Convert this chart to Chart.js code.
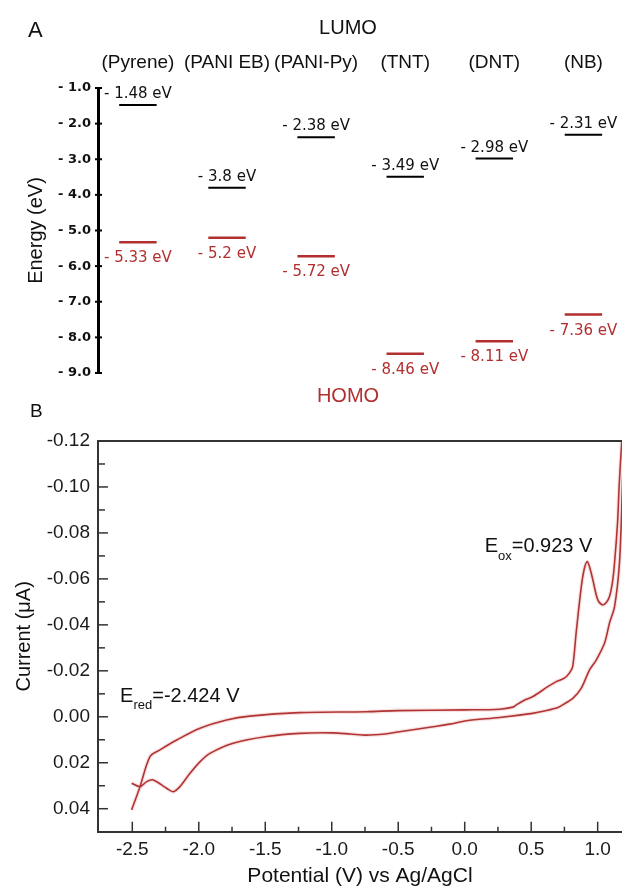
<!DOCTYPE html>
<html>
<head>
<meta charset="utf-8">
<script src="https://cdn.jsdelivr.net/npm/chart.js@4.4.1/dist/chart.umd.min.js"></script>
<style>
  html, body { margin: 0; padding: 0; background: #fff; overflow: hidden; }
  body { position: relative; width: 622px; height: 887px; }
  canvas { display: block; position: absolute; left: 0; }
  #levels { top: 0; }
  #cv { top: 400px; }
</style>
</head>
<body>
<canvas id="levels" width="622" height="410"></canvas>
<canvas id="cv" width="622" height="492"></canvas>
<script>
// panel A: frontier orbital energies (eV)
const molecules = ['(Pyrene)', '(PANI EB)', '(PANI-Py)', '(TNT)', '(DNT)', '(NB)'];
const lumoEnergy = [-1.48, -3.8, -2.38, -3.49, -2.98, -2.31];
const homoEnergy = [-5.33, -5.2, -5.72, -8.46, -8.11, -7.36];
const energyTicks = [-9, -8, -7, -6, -5, -4, -3, -2, -1];

// panel B: cyclic voltammogram, forward scan then return scan
const fwdPotential = [-2.505, -2.442, -2.367, -2.292, -2.166, -1.991, -1.791, -1.616, -1.24, -0.74, -0.5, 0.0, 0.263, 0.363, 0.388, 0.463, 0.513, 0.625, 0.689, 0.75, 0.787, 0.812, 0.839, 0.877, 0.90, 0.922, 0.945, 0.964, 1.0, 1.035, 1.065, 1.089, 1.11, 1.127, 1.15, 1.164, 1.2];
const fwdCurrent = [0.0405, 0.0304, 0.0173, 0.0144, 0.0101, 0.0050, 0.0014, -0.0003, -0.0018, -0.0022, -0.0027, -0.003, -0.0033, -0.0042, -0.0052, -0.0076, -0.0088, -0.0131, -0.0153, -0.0168, -0.019, -0.0218, -0.037, -0.0566, -0.0645, -0.0675, -0.064, -0.0595, -0.051, -0.0487, -0.0497, -0.0523, -0.058, -0.0669, -0.085, -0.103, -0.135];
const revPotential = [1.183, 1.164, 1.127, 1.089, 1.052, 0.989, 0.939, 0.877, 0.813, 0.76, 0.70, 0.6, 0.51, 0.263, 0.013, -0.113, -0.238, -0.49, -0.6, -0.739, -0.86, -0.992, -1.24, -1.49, -1.741, -1.916, -1.99, -2.066, -2.142, -2.192, -2.242, -2.342, -2.392, -2.442, -2.505];
const revCurrent = [-0.095, -0.067, -0.0479, -0.0408, -0.0321, -0.0247, -0.0204, -0.0125, -0.008, -0.006, -0.004, -0.0025, -0.0015, 0.0003, 0.0017, 0.0032, 0.0043, 0.0065, 0.0075, 0.008, 0.0075, 0.007, 0.0072, 0.0086, 0.0115, 0.0159, 0.0195, 0.0246, 0.0304, 0.0326, 0.0311, 0.0275, 0.0282, 0.0304, 0.0289];

const RED = '#b22f2f';
const SANS = '"Liberation Sans", Arial, sans-serif';
const DEJA = '"DejaVu Sans", sans-serif';

// each level is a short horizontal segment around its category index
function levelSegments(values) {
    var pts = [];
    values.forEach(function (v, i) {
        pts.push({x: i - 0.21, y: v}, {x: i + 0.21, y: v}, {x: i, y: null});
    });
    return pts;
}

const levelText = {
    id: 'levelText',
    afterDraw(chart) {
        const {ctx, chartArea, scales: {x, y}} = chart;
        ctx.save();
        // short tick marks crossing the axis
        ctx.strokeStyle = '#000';
        ctx.lineWidth = 2;
        y.ticks.forEach(function (t) {
            const py = y.getPixelForValue(t.value);
            ctx.beginPath();
            ctx.moveTo(chartArea.left - 3, py);
            ctx.lineTo(chartArea.left + 4, py);
            ctx.stroke();
        });

        ctx.textAlign = 'left';
        ctx.textBaseline = 'alphabetic';
        ctx.fillStyle = '#111';
        ctx.font = '22px ' + SANS;
        ctx.fillText('A', 28, 37);

        ctx.textAlign = 'center';
        ctx.font = '20px ' + SANS;
        ctx.fillText('LUMO', 348, 34);

        ctx.font = '19px ' + SANS;
        molecules.forEach(function (m, i) {
            ctx.fillText(m, x.getPixelForValue(i), 68);
        });

        ctx.font = '15px ' + DEJA;
        lumoEnergy.forEach(function (v, i) {
            ctx.fillText('- ' + Math.abs(v) + ' eV', x.getPixelForValue(i), y.getPixelForValue(v) - 7);
        });
        ctx.fillStyle = RED;
        homoEnergy.forEach(function (v, i) {
            ctx.fillText('- ' + Math.abs(v) + ' eV', x.getPixelForValue(i), y.getPixelForValue(v) + 20);
        });

        ctx.font = '20px ' + SANS;
        ctx.fillText('HOMO', 348, 402);
        ctx.restore();
    }
};

new Chart(document.getElementById('levels'), {
    type: 'scatter',
    data: {
        datasets: [{
            data: levelSegments(lumoEnergy),
            showLine: true, spanGaps: false, pointRadius: 0,
            borderColor: '#000', borderWidth: 2
        }, {
            data: levelSegments(homoEnergy),
            showLine: true, spanGaps: false, pointRadius: 0,
            borderColor: RED, borderWidth: 2.5
        }]
    },
    options: {
        responsive: false,
        animation: false,
        layout: {padding: {top: 88, bottom: 37, left: 0, right: 0}},
        plugins: {legend: {display: false}, tooltip: {enabled: false}},
        scales: {
            x: {type: 'linear', display: false, min: -0.448, max: 5.433},
            y: {
                min: -9, max: -1,
                afterBuildTicks: function (s) { s.ticks = energyTicks.map(function (v) { return {value: v}; }); },
                ticks: {
                    padding: 7, color: '#111',
                    font: {family: DEJA, size: 13, weight: 'bold'},
                    callback: function (v) { return '- ' + Math.abs(v).toFixed(1); }
                },
                grid: {display: false, drawTicks: false},
                border: {display: true, color: '#000', width: 3},
                title: {display: true, text: 'Energy (eV)', color: '#111', font: {family: SANS, size: 20}, padding: {top: 24, bottom: 0}},
                afterFit: function (s) { s.width = 98; }
            }
        }
    },
    plugins: [levelText]
});

// ---- panel B ----
function isHalf(v) { return Math.abs(v * 2 - Math.round(v * 2)) < 1e-6; }
function isEvenHundredth(v) { return Math.abs(Math.round(v * 100)) % 2 === 0; }

const cvPoints = fwdPotential.map(function (v, i) { return {x: v, y: fwdCurrent[i]}; })
    .concat(revPotential.map(function (v, i) { return {x: v, y: revCurrent[i]}; }));

function drawSub(ctx, x, y, main, sub, rest, drop) {
    ctx.font = '20px ' + SANS;
    ctx.fillText(main, x, y);
    var w = ctx.measureText(main).width;
    ctx.font = '13px ' + SANS;
    ctx.fillText(sub, x + w, y + drop);
    w += ctx.measureText(sub).width;
    ctx.font = '20px ' + SANS;
    ctx.fillText(rest, x + w, y);
}

const cvDecor = {
    id: 'cvDecor',
    afterDraw(chart) {
        const {ctx, chartArea, scales: {x, y}} = chart;
        ctx.save();
        ctx.strokeStyle = '#333';
        ctx.lineWidth = 2;
        ctx.beginPath();
        ctx.moveTo(chartArea.left - 1, chartArea.top);
        ctx.lineTo(chartArea.right, chartArea.top);
        ctx.stroke();

        ctx.lineWidth = 1.5;
        x.ticks.forEach(function (t) {
            const px = x.getPixelForValue(t.value);
            if (px < chartArea.left + 3 || px > chartArea.right - 1) return;
            const len = isHalf(t.value) ? 10 : 5;
            ctx.beginPath();
            ctx.moveTo(px, chartArea.bottom);
            ctx.lineTo(px, chartArea.bottom - len);
            ctx.stroke();
        });
        y.ticks.forEach(function (t) {
            const py = y.getPixelForValue(t.value);
            if (py > chartArea.bottom - 3 || py < chartArea.top + 1) return;
            const len = isEvenHundredth(t.value) ? 10 : 7;
            ctx.beginPath();
            ctx.moveTo(chartArea.left, py);
            ctx.lineTo(chartArea.left + len, py);
            ctx.stroke();
        });

        ctx.fillStyle = '#111';
        ctx.textAlign = 'left';
        ctx.textBaseline = 'alphabetic';
        ctx.font = '19px ' + SANS;
        ctx.fillText('B', 30, 17);
        drawSub(ctx, x.getPixelForValue(0.15), y.getPixelForValue(-0.0718), 'E', 'ox', '=0.923 V', 8);
        drawSub(ctx, x.getPixelForValue(-2.592), y.getPixelForValue(-0.0066), 'E', 'red', '=-2.424 V', 7);
        ctx.restore();
    }
};

new Chart(document.getElementById('cv'), {
    type: 'scatter',
    data: {
        datasets: [{
            data: cvPoints,
            showLine: true, pointRadius: 0, tension: 0.3,
            borderColor: 'rgba(215,70,70,0.16)', borderWidth: 4
        }, {
            data: cvPoints,
            showLine: true, pointRadius: 0, tension: 0.3,
            borderColor: '#a83232', borderWidth: 1.6
        }]
    },
    options: {
        responsive: false,
        animation: false,
        layout: {padding: {top: 41, bottom: 0, left: 0, right: 0}},
        plugins: {legend: {display: false}, tooltip: {enabled: false}},
        scales: {
            x: {
                type: 'linear', min: -2.758, max: 1.183,
                ticks: {
                    stepSize: 0.25, autoSkip: false, maxRotation: 0, includeBounds: false,
                    padding: 7, color: '#1a1a1a', font: {family: SANS, size: 19},
                    callback: function (v) { return isHalf(v) ? v.toFixed(1) : ''; }
                },
                grid: {display: false, drawTicks: false},
                border: {display: true, color: '#333', width: 2},
                title: {display: true, text: 'Potential (V) vs Ag/AgCl', color: '#111', font: {family: SANS, size: 21}, padding: {top: 0, bottom: 3}},
                afterFit: function (s) { s.height = 60.3; }
            },
            y: {
                reverse: true, min: -0.12, max: 0.05,
                ticks: {
                    stepSize: 0.01, autoSkip: false, includeBounds: false,
                    padding: 8, color: '#1a1a1a', font: {family: SANS, size: 19},
                    callback: function (v) {
                        if (!isEvenHundredth(v) || v > 0.045) return '';
                        return (Math.round(v * 100) / 100 + 0).toFixed(2);
                    }
                },
                grid: {display: false, drawTicks: false},
                border: {display: true, color: '#333', width: 2},
                title: {display: true, text: 'Current (μA)', color: '#111', font: {family: SANS, size: 20}, padding: {top: 12, bottom: 0}},
                afterFit: function (s) { s.width = 98; }
            }
        }
    },
    plugins: [cvDecor]
});
</script>
</body>
</html>
